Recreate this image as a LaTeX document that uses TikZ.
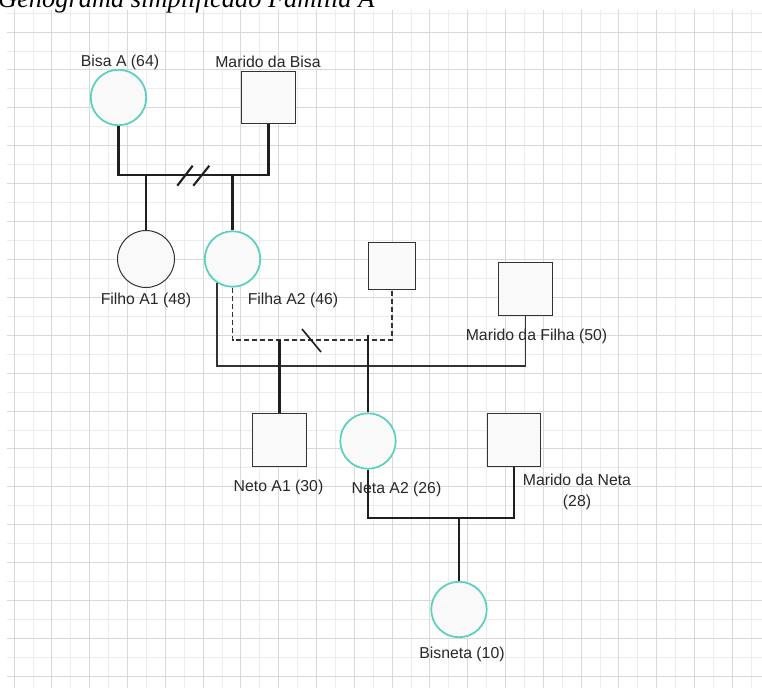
\documentclass[tikz,border=0pt]{standalone}
\usepackage{fontspec}
\setmainfont{Liberation Sans}
\newfontfamily\titlefont{Liberation Serif}
\definecolor{tealc}{RGB}{88,208,190}
\definecolor{nodefill}{RGB}{249,249,249}
\definecolor{darkc}{RGB}{51,51,51}
\definecolor{labelc}{RGB}{40,40,40}
\definecolor{gridmajor}{RGB}{216,216,216}
\definecolor{gridminor}{RGB}{236,236,236}
\tikzset{
  fem/.style={circle, draw=tealc, line width=1.7pt, fill=nodefill, minimum size=55.5pt, inner sep=0pt},
  femgray/.style={circle, draw=darkc, line width=1pt, fill=nodefill, minimum size=57pt, inner sep=0pt},
  male/.style={rectangle, draw=darkc, line width=1.4pt, fill=nodefill, inner sep=0pt},
  lbl/.style={font=\fontsize{15.8}{21}\selectfont, text=labelc, inner sep=0pt, align=center},
  rel/.style={line width=2.1pt, draw=black!88},
  thinrel/.style={line width=1.3pt, draw=darkc},
  dashrel/.style={line width=1.3pt, draw=darkc, dash pattern=on 5pt off 3pt},
  majorgrid/.style={draw=gridmajor, line width=0.9pt},
  minorgrid/.style={draw=gridminor, line width=0.8pt},
}
\begin{document}
\begin{tikzpicture}[x=1pt, y=-1pt]
\useasboundingbox (0,0) rectangle (762,688);
\clip (0,0) rectangle (762,688);
\fill[white] (0,0) rectangle (762,688);
% grid
\foreach \k in {1,3,...,39} \draw[minorgrid] ({14+\k*18.9},10) -- ({14+\k*18.9},688);
\foreach \k in {-1,1,...,33} \draw[minorgrid] (7,{32+\k*18.95}) -- (762,{32+\k*18.95});
\foreach \k in {0,2,...,38} \draw[majorgrid] ({14+\k*18.9},10) -- ({14+\k*18.9},688);
\foreach \k in {0,2,...,34} \draw[majorgrid] (7,{32+\k*18.95}) -- (762,{32+\k*18.95});
% title (cut at top, as in the reference)
\node[anchor=base west, inner sep=0pt, font=\titlefont\itshape\fontsize{26.4}{30}\selectfont] (title) at (-2,7) {Genograma simplificado Família A};
% nodes
\node[fem] (bisa) at (118.5,97.5) {};
\node[male, minimum width=53.5pt, minimum height=51.5pt] (mbisa) at (268.5,97.5) {};
\node[femgray] (filho) at (146,259) {};
\node[fem] (filha) at (232.5,259) {};
\node[male, minimum width=46.5pt, minimum height=46.5pt] (msmall) at (392,266) {};
\node[male, minimum width=53.5pt, minimum height=52.5pt] (mfilha) at (525.5,289) {};
\node[male, minimum width=53.5pt, minimum height=52.5pt] (neto) at (279.5,440) {};
\node[fem] (neta) at (368,441) {};
\node[male, minimum width=52.5pt, minimum height=52.5pt] (mneta) at (514,440) {};
\node[fem] (bisneta) at (459,609.5) {};
% junction coordinates
\coordinate (jb) at (190,175);
\coordinate (jf) at (370,366);
\coordinate (jd) at (300,340);
\coordinate (jn) at (368,335);
\coordinate (jn2) at (458,518);
% connectors
\draw[thinrel] (filha.237) |- (jf) -| (mfilha.south);
\draw[dashrel] (filha.south) |- (jd) -| (msmall.south);
\draw[rel] (bisa.south) |- (jb) -| (mbisa.south);
\draw[rel] (filho.north) -- (filho.north |- jb);
\draw[rel] (filha.north) -- (filha.north |- jb);
\draw[rel] (neto.north) -- (neto.north |- jd);
\draw[rel] (neta.north) -- (jn);
\draw[rel] (neta.south) |- (jn2) -| (mneta.south);
\draw[rel] (bisneta.north) -- (bisneta.north |- jn2);
% marks
\draw[rel] (177.3,185.7) -- (192.7,165.7);
\draw[rel] (193.3,185.7) -- (209.3,165.7);
\draw[line width=1.6pt, draw=black!88] (302,329) -- (321,352);
% labels
\node[lbl] (lbisa) at (120,62) {Bisa A (64)};
\node[lbl] (lmbisa) at (268,62) {Marido da Bisa};
\node[lbl] (lfilho) at (146,300) {Filho A1 (48)};
\node[lbl] (lfilha) at (293,300) {Filha A2 (46)};
\node[lbl] (lmfilha) at (536.5,336) {Marido da Filha (50)};
\node[lbl] (lneto) at (278.5,487) {Neto A1 (30)};
\node[lbl] (lneta) at (396.5,489) {Neta A2 (26)};
\node[lbl] (lmneta) at (577,491.5) {Marido da Neta\\(28)};
\node[lbl] (lbisneta) at (462,654) {Bisneta (10)};
\end{tikzpicture}
\end{document}
